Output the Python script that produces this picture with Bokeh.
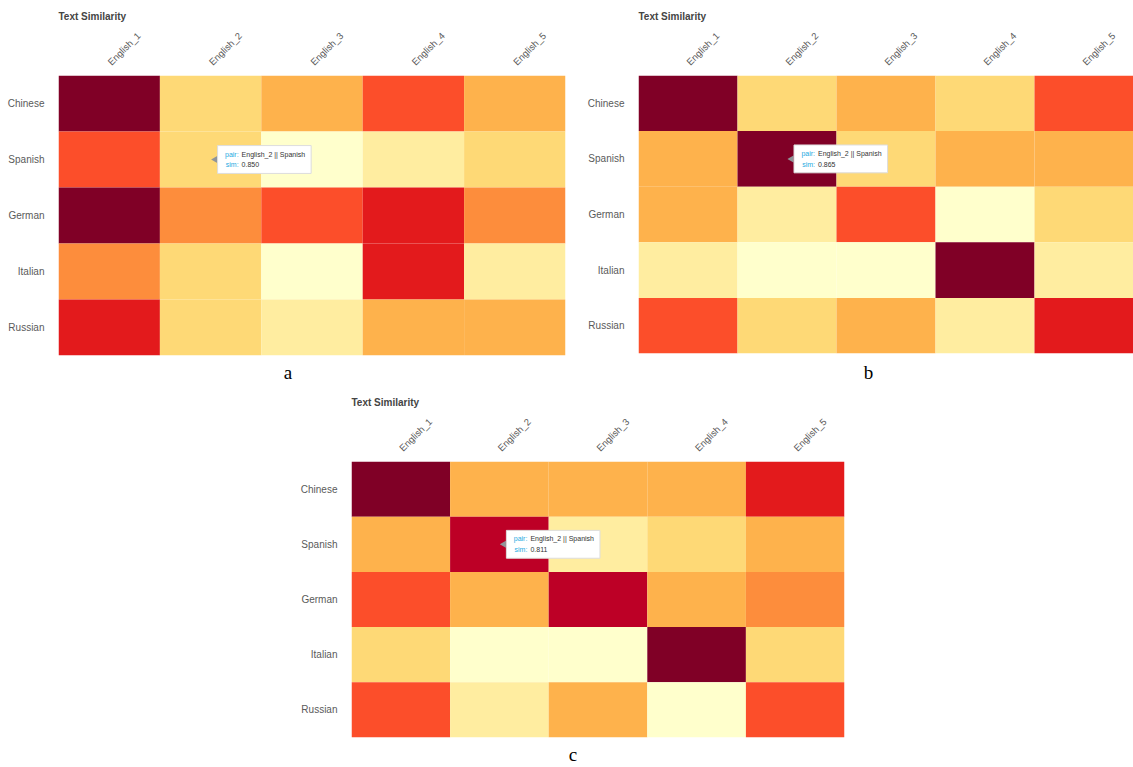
from math import pi

from bokeh.core.properties import value
from bokeh.embed import file_html
from bokeh.resources import INLINE
from bokeh.layouts import column, row
from bokeh.models import (ColumnDataSource, Div, FactorRange, LinearColorMapper,
                          Spacer)
from bokeh.palettes import YlOrRd9
from bokeh.plotting import figure
from bokeh.transform import dodge, transform

# ---------------------------------------------------------------- data
languages = ["Chinese", "Spanish", "German", "Italian", "Russian"]
english = ["English_1", "English_2", "English_3", "English_4", "English_5"]

# similarity of each translated text (rows) to each English text (columns)
sim_a = [
    [0.980, 0.852, 0.868, 0.905, 0.872],
    [0.908, 0.850, 0.800, 0.831, 0.846],
    [0.975, 0.889, 0.902, 0.927, 0.884],
    [0.886, 0.845, 0.812, 0.931, 0.829],
    [0.934, 0.855, 0.826, 0.871, 0.866],
]
sim_b = [
    [0.858, 0.767, 0.781, 0.769, 0.812],
    [0.783, 0.865, 0.766, 0.779, 0.784],
    [0.786, 0.752, 0.811, 0.730, 0.768],
    [0.754, 0.737, 0.741, 0.861, 0.756],
    [0.809, 0.771, 0.782, 0.749, 0.826],
]
sim_c = [
    [0.835, 0.752, 0.754, 0.751, 0.797],
    [0.753, 0.811, 0.722, 0.738, 0.756],
    [0.781, 0.749, 0.814, 0.752, 0.766],
    [0.737, 0.706, 0.700, 0.829, 0.741],
    [0.783, 0.719, 0.757, 0.709, 0.779],
]

# the pair whose hover tooltip is shown on every panel
hover_lang = "Spanish"
hover_eng = "English_2"

captions = ["a", "b", "c"]

PALETTE = list(reversed(YlOrRd9))  # light (low) -> dark (high)
SANS = "Liberation Sans"


def heatmap(sims, width, height, frame_top, border_right):
    xs, ys, vals = [], [], []
    for i, lang in enumerate(languages):
        for j, eng in enumerate(english):
            xs.append(eng)
            ys.append(lang)
            vals.append(sims[i][j])
    src = ColumnDataSource(dict(eng=xs, lang=ys, sim=vals))
    mapper = LinearColorMapper(palette=PALETTE, low=min(vals), high=max(vals))

    p = figure(
        title="Text Similarity",
        x_range=FactorRange(*english),
        y_range=FactorRange(*reversed(languages)),
        x_axis_location="above",
        width=width, height=height,
        min_border_left=58, min_border_right=border_right,
        min_border_top=frame_top, min_border_bottom=5,
        toolbar_location=None, output_backend="svg",
    )
    p.rect(x="eng", y="lang", width=1, height=1, source=src,
           fill_color=transform("sim", mapper), line_color=None)

    p.title.text_font = SANS
    p.title.text_font_size = "10px"
    p.title.text_font_style = "bold"
    p.title.text_color = "#444444"
    p.title.align = "left"
    p.title.standoff = 4

    p.grid.grid_line_color = None
    p.outline_line_color = None
    for ax in (p.xaxis, p.yaxis):
        ax.axis_line_color = None
        ax.major_tick_line_color = None
        ax.minor_tick_line_color = None
        ax.major_tick_out = 0
        ax.major_label_text_font = SANS
        ax.major_label_text_color = "#5a5a5a"
    p.xaxis.major_label_text_font_size = "9.5px"
    p.yaxis.major_label_text_font_size = "10px"
    p.xaxis.major_label_orientation = pi / 4
    p.xaxis.major_label_standoff = 12
    p.yaxis.major_label_standoff = 14

    # hover tooltip for the selected pair
    i = languages.index(hover_lang)
    j = english.index(hover_eng)
    tip = ColumnDataSource(dict(
        eng=[hover_eng], lang=[hover_lang],
        labels=["pair:\nsim:"],
        values=[f"{hover_eng} || {hover_lang}\n{sims[i][j]:.3f}"],
    ))
    p.scatter(x=dodge("eng", 0.045, range=p.x_range), y="lang", source=tip,
              marker="triangle", angle=pi / 2, size=7,
              fill_color="#909599", line_color=None)
    p.text(x="eng", y="lang", text="values", source=tip,
           x_offset=7, text_align="left", text_baseline="middle",
           text_font=value(SANS), text_font_size="7px", text_color="#333333",
           text_line_height=1.55,
           background_fill_color="white", border_line_color="#dddddd",
           padding=dict(left=24, right=6, top=5, bottom=5))
    p.text(x="eng", y="lang", text="labels", source=tip,
           x_offset=28, text_align="right", text_baseline="middle",
           text_font=value(SANS), text_font_size="7px", text_color="#26aae1",
           text_line_height=1.55)
    return p


def caption(text, width, height):
    return Div(text=text, width=width, height=height, margin=0,
               styles={"text-align": "center", "font-family": "Liberation Serif",
                       "font-size": "19px", "line-height": f"{height}px",
                       "color": "#000000"})


pa = heatmap(sim_a, 580, 360, 75, 15)
pb = heatmap(sim_b, 553, 358, 74, 0)
pc = heatmap(sim_c, 566, 356, 75, 15)
for p in (pa, pb, pc):
    p.margin = 0

layout = column(
    row(pa, pb, spacing=0),
    row(caption(captions[0], 576, 26), Spacer(width=28, height=26),
        caption(captions[1], 529, 26), spacing=0),
    row(Spacer(width=293, height=356), pc, spacing=0),
    row(Spacer(width=293, height=25), caption(captions[2], 560, 25), spacing=0),
    spacing=0,
)

open("out.html", "w").write(file_html(layout, INLINE))
